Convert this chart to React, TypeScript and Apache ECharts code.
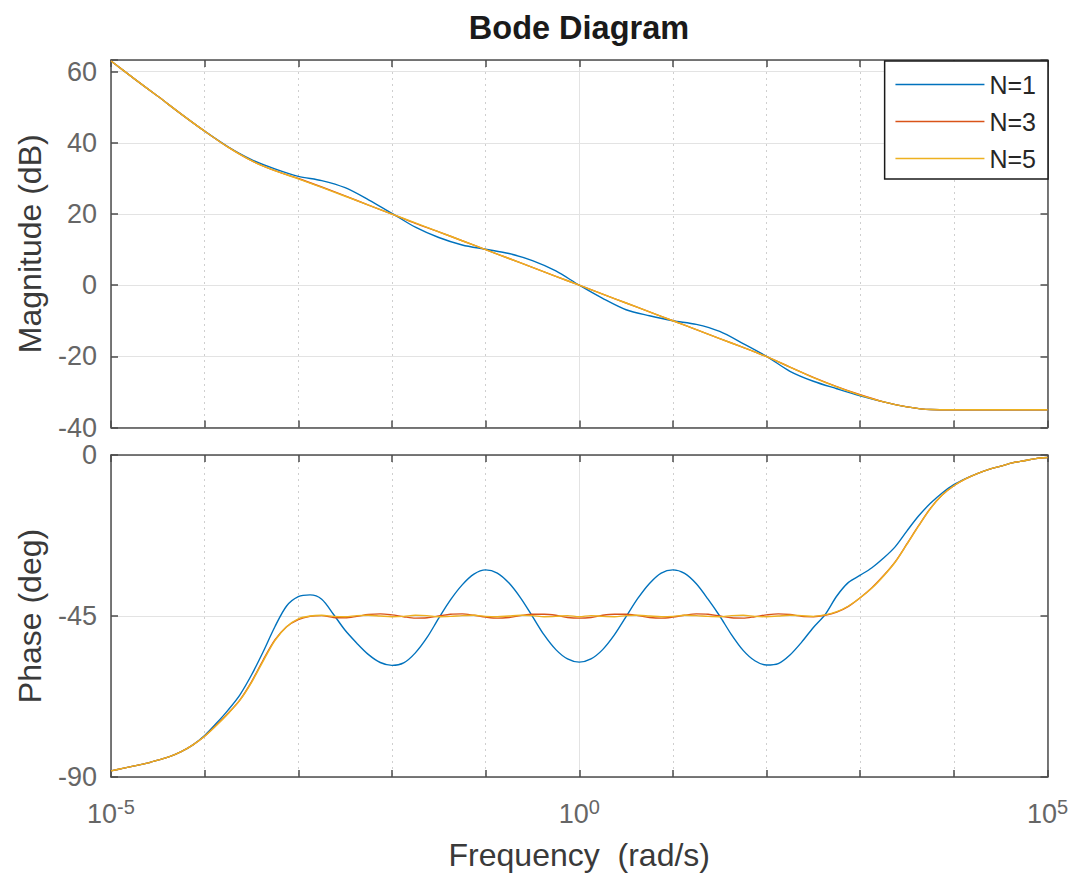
import { useEffect, useRef } from "react";
import * as echarts from "echarts";

const FONT = '"Liberation Sans", Arial, Helvetica, sans-serif';

// log10 of frequency (rad/s) for the magnitude samples
const magLogFreq = [
  -5, -4.75, -4.5, -4.25, -4, -3.75, -3.5, -3.25, -3, -2.75, -2.5, -2.25, -2, -1.75, -1.5, -1.25, -1,
  -0.75, -0.5, -0.25, 0, 0.25, 0.5, 0.75, 1, 1.25, 1.5, 1.75, 2, 2.25, 2.5, 2.75, 3, 3.25, 3.5, 3.75,
  4, 4.25, 4.5, 4.75, 5,
];

// Magnitude (dB)
const magN1 = [
  63.0, 58.0, 53.1, 48.1, 43.3, 38.9, 35.3, 32.7, 30.6, 29.4, 27.4, 24.0, 20.2, 16.3, 13.4, 11.3, 10.1,
  8.9, 6.9, 4.0, 0.0, -3.7, -6.9, -8.6, -10.0, -11.0, -13.0, -16.4, -20.0, -24.2, -27.0, -29.1, -31.1,
  -32.8, -34.2, -34.95, -35.0, -35.0, -35.0, -35.0, -35.0,
];
const magN3 = [
  63.0, 58.0, 53.1, 48.1, 43.3, 38.8, 35.0, 32.2, 30.0, 27.6, 25.1, 22.5, 20.0, 17.4, 15.0, 12.5, 10.0,
  7.5, 5.0, 2.5, 0.0, -2.5, -5.0, -7.5, -10.0, -12.5, -15.0, -17.5, -20.1, -23.0, -25.9, -28.5, -30.8,
  -32.8, -34.2, -34.95, -35.0, -35.0, -35.0, -35.0, -35.0,
];
const magN5 = [
  63.0, 58.0, 53.1, 48.1, 43.3, 38.8, 35.0, 32.2, 29.9, 27.5, 25.0, 22.5, 20.0, 17.5, 15.0, 12.5, 10.0,
  7.5, 5.0, 2.5, 0.0, -2.5, -5.0, -7.5, -10.0, -12.5, -15.0, -17.5, -20.1, -23.0, -26.0, -28.6, -30.9,
  -32.8, -34.2, -34.95, -35.0, -35.0, -35.0, -35.0, -35.0,
];

// log10 of frequency (rad/s) for the phase samples
const phaseLogFreq = [
  -5, -4.875, -4.75, -4.625, -4.5, -4.375, -4.25, -4.125, -4, -3.875, -3.75, -3.625, -3.5, -3.375, -3.25,
  -3.125, -3, -2.875, -2.75, -2.625, -2.5, -2.375, -2.25, -2.125, -2, -1.875, -1.75, -1.625, -1.5, -1.375,
  -1.25, -1.125, -1, -0.875, -0.75, -0.625, -0.5, -0.375, -0.25, -0.125, 0, 0.125, 0.25, 0.375, 0.5, 0.625,
  0.75, 0.875, 1, 1.125, 1.25, 1.375, 1.5, 1.625, 1.75, 1.875, 2, 2.125, 2.25, 2.375, 2.5, 2.625, 2.75,
  2.875, 3, 3.125, 3.25, 3.375, 3.5, 3.625, 3.75, 3.875, 4, 4.125, 4.25, 4.375, 4.5, 4.625, 4.75, 4.875, 5,
];

// Phase (deg)
const phaseN1 = [
  -88.3, -87.6, -86.9, -86.2, -85.3, -84.3, -82.9, -81.0, -78.4, -75.0, -71.3, -67.1, -61.5, -55.0, -48.0,
  -42.2, -39.6, -39.1, -40.3, -44.5, -49.0, -52.6, -55.8, -58.0, -58.8, -58.1, -55.3, -51.0, -45.6, -40.5,
  -36.3, -33.3, -32.1, -33.0, -35.8, -40.0, -45.1, -50.3, -54.4, -57.0, -57.9, -57.0, -54.4, -50.3, -45.2,
  -40.1, -35.9, -33.0, -32.1, -33.1, -36.0, -40.3, -45.0, -50.2, -54.6, -57.5, -58.7, -58.3, -55.9, -52.3,
  -48.2, -44.6, -39.4, -35.6, -33.6, -31.5, -28.8, -25.6, -21.2, -17.0, -13.5, -10.6, -8.3, -6.6, -5.2,
  -4.0, -3.1, -2.2, -1.6, -1.0, -0.7,
];
const phaseN3 = [
  -88.3, -87.6, -86.9, -86.2, -85.3, -84.3, -82.9, -81.0, -78.6, -75.5, -72.2, -68.5, -63.4, -57.3, -51.7,
  -48.0, -46.0, -45.1, -44.9, -45.4, -45.5, -45.1, -44.6, -44.4, -44.7, -45.2, -45.6, -45.5, -45.0, -44.5,
  -44.4, -44.8, -45.3, -45.6, -45.4, -44.9, -44.5, -44.5, -44.8, -45.4, -45.6, -45.4, -44.8, -44.5, -44.5,
  -44.9, -45.4, -45.6, -45.3, -44.8, -44.4, -44.5, -45.0, -45.5, -45.6, -45.2, -44.7, -44.4, -44.6, -45.1,
  -45.2, -44.8, -43.9, -42.3, -39.9, -37.1, -33.7, -29.8, -24.8, -19.7, -14.9, -11.2, -8.6, -6.7, -5.2,
  -4.0, -3.1, -2.2, -1.6, -1.0, -0.7,
];
const phaseN5 = [
  -88.3, -87.6, -86.9, -86.2, -85.3, -84.3, -82.9, -81.0, -78.6, -75.6, -72.3, -68.6, -63.6, -57.6, -51.9,
  -48.0, -45.8, -45.0, -44.8, -45.1, -45.2, -44.9, -44.8, -45.0, -45.2, -45.1, -44.8, -44.9, -45.2, -45.1,
  -44.9, -44.8, -45.1, -45.2, -45.0, -44.8, -44.9, -45.2, -45.1, -44.9, -45.2, -44.9, -45.1, -45.2, -44.9,
  -44.8, -45.0, -45.2, -45.1, -44.8, -44.9, -45.1, -45.2, -44.9, -44.8, -45.1, -45.2, -45.0, -44.8, -44.9,
  -45.1, -44.7, -43.8, -42.2, -39.9, -37.2, -33.8, -29.9, -24.9, -19.8, -15.0, -11.2, -8.6, -6.7, -5.2,
  -4.0, -3.1, -2.2, -1.6, -1.0, -0.7,
];

const seriesNames = ["N=1", "N=3", "N=5"];
const seriesColors = ["#0072BD", "#D95319", "#EDB120"];
const magSeries = [magN1, magN3, magN5];
const phaseSeries = [phaseN1, phaseN3, phaseN5];

const magTicks = [-40, -20, 0, 20, 40, 60];
const phaseTicks = [-90, -45, 0];
const freqTickLabels: Record<string, string> = {
  "-5": "{b|10}{s|-5}",
  "0": "{b|10}{s|0}",
  "5": "{b|10}{s|5}",
};

const AXIS = "#4d4d4d";
const GRID = "#e3e3e3";
const GRID_MINOR = "#cfcfcf";
const TICK_TEXT = "#666666";
const NAME_TEXT = "#3a3a3a";

const PLOT_LEFT = 111;
const PLOT_RIGHT = 1076 - 1047.5;
const LINE_WIDTH = 1.4;

const pair = (xs: number[], ys: number[]) => xs.map((x, i) => [x, ys[i]]);

function xAxes(gridIndex: number, withLabels: boolean) {
  const line = { show: true, onZero: false, lineStyle: { color: AXIS, width: 1.5 } };
  const tick = { show: true, inside: true, length: 7, lineStyle: { color: AXIS, width: 1.5 } };
  const minor = { show: true, splitNumber: 5, length: 7, lineStyle: { color: AXIS, width: 1.5 } };
  return [
    {
      type: "value",
      gridIndex,
      position: "bottom",
      min: -5,
      max: 5,
      interval: 5,
      axisLine: line,
      axisTick: tick,
      minorTick: minor,
      splitLine: { show: true, lineStyle: { color: GRID, width: 1 } },
      minorSplitLine: { show: true, lineStyle: { color: GRID_MINOR, width: 1, type: [2, 4] } },
      axisLabel: withLabels
        ? {
            show: true,
            margin: 20,
            formatter: (v: number) => freqTickLabels[String(v)] ?? "",
            rich: {
              b: { fontSize: 27, lineHeight: 30, color: TICK_TEXT, fontFamily: FONT, verticalAlign: "bottom" },
              s: {
                fontSize: 20,
                lineHeight: 20,
                color: TICK_TEXT,
                fontFamily: FONT,
                padding: [0, 0, 16, 0],
                verticalAlign: "top",
              },
            },
          }
        : { show: false },
      name: withLabels ? "Frequency  (rad/s)" : "",
      nameLocation: "middle",
      nameGap: 62,
      nameTextStyle: { fontSize: 32, color: NAME_TEXT, fontFamily: FONT },
    },
    {
      type: "value",
      gridIndex,
      position: "top",
      min: -5,
      max: 5,
      interval: 5,
      axisLine: line,
      axisTick: tick,
      minorTick: minor,
      splitLine: { show: false },
      axisLabel: { show: false },
    },
  ];
}

function yAxes(gridIndex: number, min: number, max: number, interval: number, ticks: number[], name: string) {
  const line = { show: true, onZero: false, lineStyle: { color: AXIS, width: 1.5 } };
  const tick = { show: true, inside: true, length: 7, lineStyle: { color: AXIS, width: 1.5 } };
  return [
    {
      type: "value",
      gridIndex,
      position: "left",
      min,
      max,
      interval,
      axisLine: line,
      axisTick: tick,
      splitLine: { show: true, lineStyle: { color: GRID, width: 1 } },
      axisLabel: {
        show: true,
        margin: 14,
        fontSize: 27,
        color: TICK_TEXT,
        fontFamily: FONT,
        formatter: (v: number) => (ticks.includes(v) ? String(v) : ""),
      },
      name,
      nameLocation: "middle",
      nameGap: 65,
      nameTextStyle: { fontSize: 32, color: NAME_TEXT, fontFamily: FONT },
    },
    {
      type: "value",
      gridIndex,
      position: "right",
      min,
      max,
      interval,
      axisLine: line,
      axisTick: tick,
      splitLine: { show: false },
      axisLabel: { show: false },
    },
  ];
}

export default function App() {
  const ref = useRef<HTMLDivElement>(null);

  useEffect(() => {
    if (!ref.current) return;
    const chart = echarts.init(ref.current, undefined, { renderer: "svg" });

    const series: any[] = [];
    seriesNames.forEach((name, i) => {
      series.push({
        type: "line",
        name,
        xAxisIndex: 0,
        yAxisIndex: 0,
        data: pair(magLogFreq, magSeries[i]),
        symbol: "none",
        showSymbol: false,
        smooth: 0.3,
        lineStyle: { color: seriesColors[i], width: LINE_WIDTH },
        itemStyle: { color: seriesColors[i] },
        z: 3 + i,
      });
    });
    seriesNames.forEach((name, i) => {
      series.push({
        type: "line",
        name,
        xAxisIndex: 2,
        yAxisIndex: 2,
        data: pair(phaseLogFreq, phaseSeries[i]),
        symbol: "none",
        showSymbol: false,
        smooth: 0.3,
        lineStyle: { color: seriesColors[i], width: LINE_WIDTH },
        itemStyle: { color: seriesColors[i] },
        z: 3 + i,
      });
    });

    chart.setOption({
      animation: false,
      backgroundColor: "#ffffff",
      grid: [
        { left: PLOT_LEFT, right: PLOT_RIGHT, top: 60, height: 367.5 },
        { left: PLOT_LEFT, right: PLOT_RIGHT, top: 455, height: 322 },
      ],
      xAxis: [...xAxes(0, false), ...xAxes(1, true)],
      yAxis: [
        ...yAxes(0, -40, 63.3, 20, magTicks, "Magnitude (dB)"),
        ...yAxes(1, -90, 0, 45, phaseTicks, "Phase (deg)"),
      ],
      legend: {
        data: seriesNames,
        orient: "vertical",
        right: 28,
        top: 61,
        itemWidth: 89,
        itemHeight: 28,
        itemGap: 12,
        padding: [11, 12, 8, 10],
        backgroundColor: "#ffffff",
        borderColor: "#1a1a1a",
        borderWidth: 1.5,
        borderRadius: 0,
        itemStyle: { opacity: 0, borderWidth: 0 },
        lineStyle: { width: 1.6 },
        textStyle: { fontSize: 25, color: "#262626", fontFamily: FONT },
        selectedMode: false,
      },
      graphic: [
        {
          type: "text",
          x: 579,
          y: 28,
          style: {
            text: "Bode Diagram",
            fill: "#1a1a1a",
            font: `bold 32.5px ${FONT}`,
            textAlign: "center",
            textVerticalAlign: "middle",
          },
        },
      ],
      series,
    });

    return () => chart.dispose();
  }, []);

  return (
    <div
      ref={ref}
      style={{ position: "absolute", left: 0, top: 0, width: 1076, height: 877, background: "#fff" }}
    />
  );
}
